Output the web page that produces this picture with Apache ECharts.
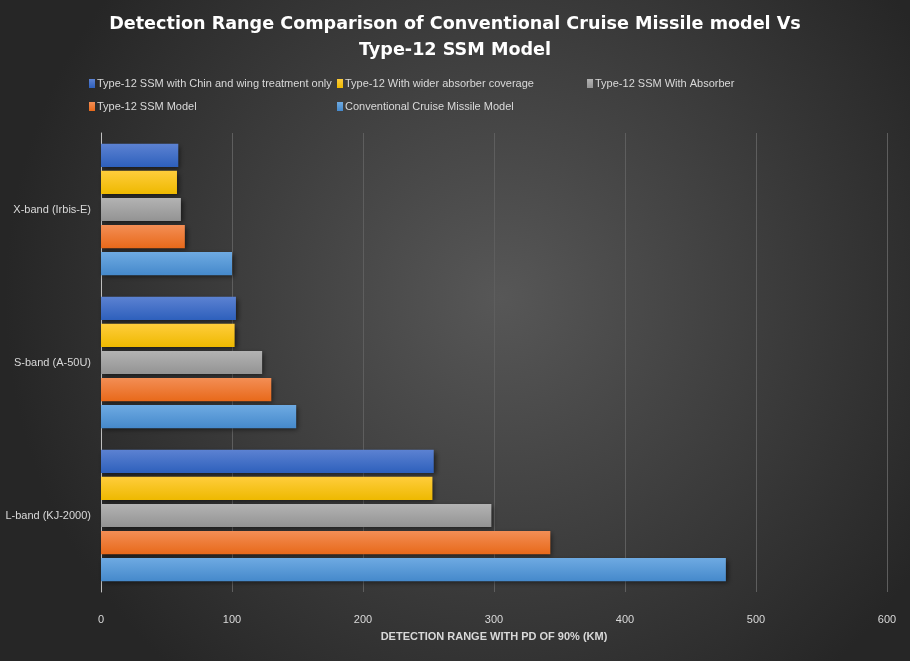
<!DOCTYPE html>
<html><head><meta charset="utf-8">
<script src="https://cdn.jsdelivr.net/npm/echarts@6/dist/echarts.min.js"></script>
<style>html,body{margin:0;padding:0;background:#333;}#c{width:910px;height:661px;}</style>
</head><body><div id="c"></div>
<script>
const categories = ['L-band (KJ-2000)', 'S-band (A-50U)', 'X-band (Irbis-E)'];
const seriesNames = ['Type-12 SSM with Chin and wing treatment only', 'Type-12 With wider absorber coverage', 'Type-12 SSM With Absorber', 'Type-12 SSM Model', 'Conventional Cruise Missile Model'];
const chinWing = [254, 103, 59];
const widerAbsorber = [253, 102, 58];
const withAbsorber = [298, 123, 61];
const type12 = [343, 130, 64];
const conventional = [477, 149, 100];
const xTicks = [0, 100, 200, 300, 400, 500, 600];

const values = [chinWing, widerAbsorber, withAbsorber, type12, conventional];
const colors = [['#5c82d2', '#2e60bc'], ['#ffcd3c', '#eeb900'], ['#b3b3b3', '#939393'], ['#f38e55', '#e8691a'], ['#6eaae2', '#4589cb']];
const legendColors = ['#4472c4', '#ffc000', '#a5a5a5', '#ed7d31', '#5b9bd5'];
const font = "'Liberation Sans', sans-serif";

const legendPos = [
  {name: seriesNames[0], left: 84, top: 73},
  {name: seriesNames[1], left: 332, top: 73},
  {name: seriesNames[2], left: 582, top: 73},
  {name: seriesNames[3], left: 84, top: 96},
  {name: seriesNames[4], left: 332, top: 96}
];

const chart = echarts.init(document.getElementById('c'));
chart.setOption({
  backgroundColor: {type: 'radial', x: 0.55, y: 0.45, r: 0.75, colorStops: [{offset: 0, color: '#575757'}, {offset: 1, color: '#262626'}]},
  animation: false,
  color: legendColors,
  title: {
    text: 'Detection Range Comparison of Conventional Cruise Missile model Vs\nType-12 SSM Model',
    left: 'center', top: 6,
    textStyle: {color: '#ffffff', fontSize: 17.6, fontWeight: 'bold', fontFamily: 'DejaVu Sans', lineHeight: 26}
  },
  legend: legendPos.map(l => ({
    data: [l.name], left: l.left, top: l.top, itemWidth: 6, itemHeight: 9, itemGap: 0,
    icon: 'rect', textStyle: {color: '#d9d9d9', fontSize: 11, fontFamily: font, padding: [0, 0, 0, -3]},
    selectedMode: false
  })),
  grid: {left: 101, right: 23, top: 133, bottom: 69, containLabel: false},
  xAxis: {
    type: 'value', min: 0, max: 600, interval: 100,
    name: 'DETECTION RANGE WITH PD OF 90% (KM)', nameLocation: 'middle', nameGap: 39,
    nameTextStyle: {color: '#d9d9d9', fontSize: 11, fontWeight: 'bold', fontFamily: font},
    axisLine: {show: false}, axisTick: {show: false},
    axisLabel: {color: '#d9d9d9', fontSize: 11, fontFamily: font, margin: 22,
      formatter: v => xTicks.includes(v) ? String(v) : ''},
    splitLine: {show: true, lineStyle: {color: '#5e5e5e', width: 1}}
  },
  yAxis: {
    type: 'category', data: categories,
    axisLine: {show: true, lineStyle: {color: '#bfbfbf', width: 1}},
    axisTick: {show: false},
    axisLabel: {color: '#d9d9d9', fontSize: 11, fontFamily: font, margin: 10}
  },
  series: seriesNames.map((n, i) => ({
    name: n, type: 'bar', data: values[i],
    barCategoryGap: '14%', barGap: '17%',
    itemStyle: {
      color: {type: 'linear', x: 0, y: 0, x2: 0, y2: 1, colorStops: [{offset: 0, color: colors[i][0]}, {offset: 1, color: colors[i][1]}]},
      shadowColor: 'rgba(0,0,0,0.55)', shadowBlur: 5, shadowOffsetX: 2, shadowOffsetY: 2
    }
  }))
});
</script></body></html>
